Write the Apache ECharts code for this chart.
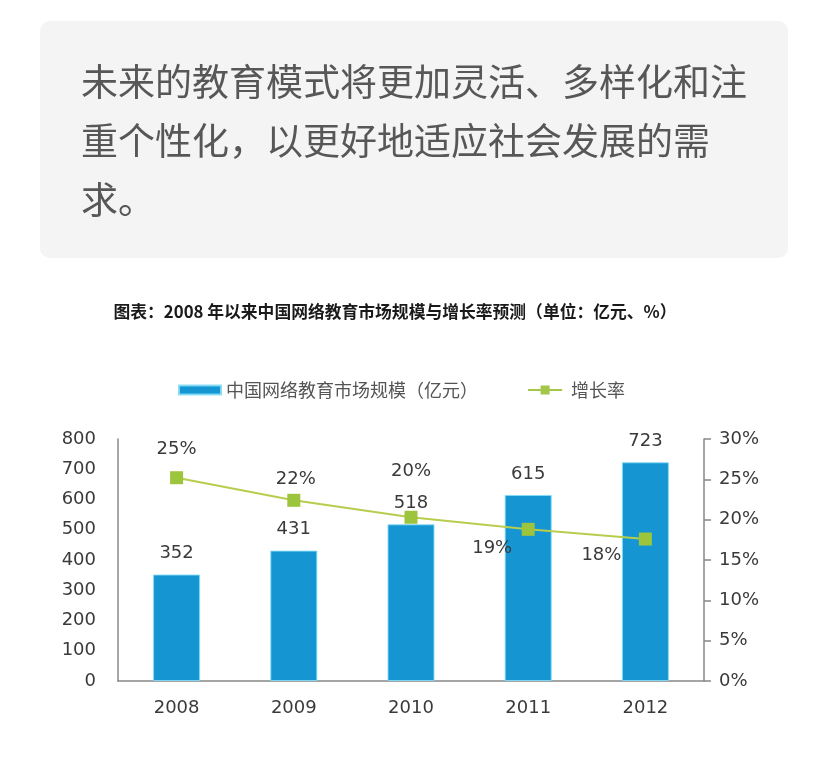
<!DOCTYPE html>
<html>
<head>
<meta charset="utf-8">
<script src="https://cdn.jsdelivr.net/npm/echarts@6/dist/echarts.min.js"></script>
<style>
html,body{margin:0;padding:0;background:#fff;}
#main{width:828px;height:766px;}
</style>
</head>
<body>
<div id="main"></div>
<script>
// ---- data ----
const introLines = ['未来的教育模式将更加灵活、多样化和注', '重个性化，以更好地适应社会发展的需', '求。'];
const chartTitle = '图表：2008 年以来中国网络教育市场规模与增长率预测（单位：亿元、%）';
const categories = ['2008', '2009', '2010', '2011', '2012'];
const marketSize = [352, 431, 518, 615, 723];
const growthRate = [25.2, 22.4, 20.3, 18.8, 17.6];
const seriesNames = ['中国网络教育市场规模（亿元）', '增长率'];

// ---- styling (not data) ----
const rateLabelOffsets = [[0, -28], [2, -21], [0, -46], [-36, 19], [-44, 16]];
const numFont = '"DejaVu Sans", "Noto Sans CJK SC", sans-serif';
const cjkFont = '"Noto Sans CJK SC", sans-serif';
const lineLegendIcon = 'path://M0,4H14V0H24V4H38V6H24V10H14V6H0Z';

const chart = echarts.init(document.getElementById('main'), null, {renderer: 'canvas'});

const graphics = [
  {type: 'rect', shape: {x: 40, y: 21, width: 748, height: 237, r: 10}, style: {fill: '#f4f4f5'}, z: -1}
];
const lineYs = [82, 141, 200];
introLines.forEach((t, i) => {
  graphics.push({type: 'text', x: 81, y: lineYs[i],
    style: {text: t, font: '37px ' + cjkFont, fill: '#575757', textVerticalAlign: 'middle', textAlign: 'left'}});
});
graphics.push({type: 'text', x: 395, y: 312,
  style: {text: chartTitle, font: 'bold 16.8px ' + cjkFont, fill: '#1a1a1a', textAlign: 'center', textVerticalAlign: 'middle'}});

const option = {
  backgroundColor: '#ffffff',
  animation: false,
  graphic: graphics,
  legend: {
    left: 173, top: 376,
    itemGap: 50,
    itemWidth: 42, itemHeight: 9,
    textStyle: {fontFamily: cjkFont, fontSize: 18, color: '#555'},
    data: [
      {name: seriesNames[0], icon: 'rect'},
      {name: seriesNames[1], icon: lineLegendIcon, itemStyle: {color: '#a4c64a'}}
    ]
  },
  grid: {left: 118, right: 124, top: 439, bottom: 85, containLabel: false},
  xAxis: {
    type: 'category',
    data: categories,
    axisLine: {lineStyle: {color: '#888', width: 1.5}},
    axisTick: {show: false},
    axisLabel: {margin: 18, fontFamily: numFont, fontSize: 18, color: '#3a3a3a'}
  },
  yAxis: [
    {
      type: 'value', min: 0, max: 800, interval: 100,
      axisLine: {show: true, lineStyle: {color: '#888', width: 1.5}},
      axisTick: {show: false},
      splitLine: {show: false},
      axisLabel: {margin: 22, fontFamily: numFont, fontSize: 18, color: '#3a3a3a'}
    },
    {
      type: 'value', min: 0, max: 30, interval: 5, position: 'right',
      axisLine: {show: true, lineStyle: {color: '#888', width: 1.5}},
      axisTick: {show: true, length: 7, lineStyle: {color: '#888', width: 1.5}},
      splitLine: {show: false},
      axisLabel: {margin: 15, fontFamily: numFont, fontSize: 18, color: '#3a3a3a', formatter: '{value}%'}
    }
  ],
  series: [
    {
      name: seriesNames[0],
      type: 'bar',
      data: marketSize,
      barWidth: 47,
      itemStyle: {color: '#1596d3', borderColor: 'rgba(130,220,245,0.9)', borderWidth: 1},
      label: {show: true, position: 'top', distance: 12, fontFamily: numFont, fontSize: 18, color: '#3a3a3a'}
    },
    {
      name: seriesNames[1],
      type: 'line',
      yAxisIndex: 1,
      data: growthRate.map((v, i) => ({
        value: v,
        label: {offset: rateLabelOffsets[i]}
      })),
      symbol: 'rect',
      symbolSize: 13,
      lineStyle: {color: '#b8cc4e', width: 2},
      itemStyle: {color: '#9cc43c'},
      label: {
        show: true, position: 'inside',
        fontFamily: numFont, fontSize: 18, color: '#3a3a3a',
        formatter: p => Math.round(p.value) + '%'
      },
      z: 5
    }
  ]
};
chart.setOption(option);
</script>
</body>
</html>
